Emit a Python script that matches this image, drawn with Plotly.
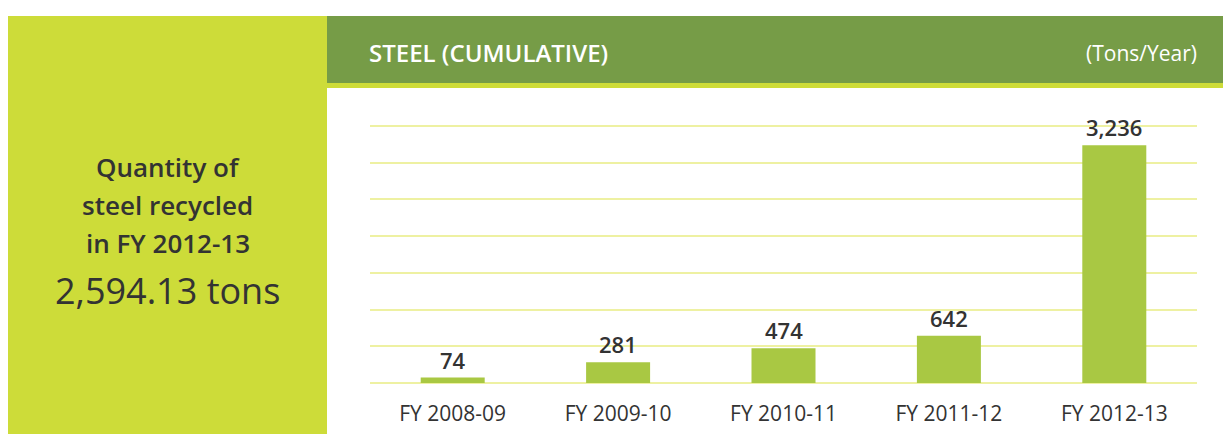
import plotly.graph_objects as go

# Data
years = ["FY 2008-09", "FY 2009-10", "FY 2010-11", "FY 2011-12", "FY 2012-13"]
steel_tons = [74, 281, 474, 642, 3236]
value_labels = ["74", "281", "474", "642", "3,236"]

W, H = 1223, 434

LIME = "#cddc39"
HEADER = "#769c47"
BAR = "#a9c843"
GRID = "#eef1a2"
TEXT = "#333333"
FONT = "Open Sans"

def px(x):
    return x / W

def py(y):
    return 1 - y / H

fig = go.Figure()

fig.add_trace(go.Bar(
    x=list(range(len(years))),
    y=steel_tons,
    width=0.387,
    marker=dict(color=BAR, line=dict(width=0)),
    hoverinfo="skip",
))

shapes = [
    # left summary panel
    dict(type="rect", xref="paper", yref="paper", x0=px(8), x1=px(327),
         y0=0, y1=py(16), fillcolor=LIME, line=dict(width=0), layer="below"),
    # header bar
    dict(type="rect", xref="paper", yref="paper", x0=px(327), x1=1,
         y0=py(83), y1=py(16), fillcolor=HEADER, line=dict(width=0), layer="below"),
    # accent stripe under the header
    dict(type="rect", xref="paper", yref="paper", x0=px(327), x1=1,
         y0=py(88), y1=py(83), fillcolor=LIME, line=dict(width=0), layer="below"),
]

annotations = [
    dict(xref="paper", yref="paper", x=px(367), y=py(53), xanchor="left", yanchor="middle",
         text="STEEL (CUMULATIVE)", showarrow=False,
         font=dict(family=FONT, size=24, color="white", weight=600)),
    dict(xref="paper", yref="paper", x=px(1199), y=py(53), xanchor="right", yanchor="middle",
         text="(Tons/Year)", showarrow=False,
         font=dict(family=FONT, size=21, color="white")),
    dict(xref="paper", yref="paper", x=px(167.5), y=py(167), xanchor="center", yanchor="middle",
         text="Quantity of", showarrow=False,
         font=dict(family=FONT, size=26, color=TEXT, weight=600)),
    dict(xref="paper", yref="paper", x=px(167.5), y=py(205), xanchor="center", yanchor="middle",
         text="steel recycled", showarrow=False,
         font=dict(family=FONT, size=26, color=TEXT, weight=600)),
    dict(xref="paper", yref="paper", x=px(167.5), y=py(243), xanchor="center", yanchor="middle",
         text="in FY 2012-13", showarrow=False,
         font=dict(family=FONT, size=26, color=TEXT, weight=600)),
    dict(xref="paper", yref="paper", x=px(167.5), y=py(290), xanchor="center", yanchor="middle",
         text="2,594.13 tons", showarrow=False,
         font=dict(family=FONT, size=36, color=TEXT)),
]

for i, (v, lab) in enumerate(zip(steel_tons, value_labels)):
    annotations.append(dict(
        x=i, y=v, xref="x", yref="y", text=lab, showarrow=False,
        xanchor="center", yanchor="middle", yshift=18,
        font=dict(family=FONT, size=22, color=TEXT, weight=600),
    ))

fig.update_layout(
    width=W, height=H,
    margin=dict(l=0, r=0, t=0, b=0),
    paper_bgcolor="white",
    plot_bgcolor="rgba(0,0,0,0)",
    showlegend=False,
    shapes=shapes,
    annotations=annotations,
    xaxis=dict(
        domain=[px(370), px(1197)],
        range=[-0.5, 4.5],
        tickmode="array",
        tickvals=list(range(len(years))),
        ticktext=years,
        showgrid=False, zeroline=False, showline=False,
        ticks="", ticklabelstandoff=16,
        tickfont=dict(family=FONT, size=21, color=TEXT),
    ),
    yaxis=dict(
        domain=[py(383), py(124)],
        range=[0, 3525],
        tickmode="array",
        tickvals=[0, 500, 1000, 1500, 2000, 2500, 3000, 3500],
        showgrid=True, gridcolor=GRID, gridwidth=2,
        zeroline=True, zerolinecolor=GRID, zerolinewidth=2,
        showticklabels=False, ticks="", showline=False,
    ),
)

fig.write_html("out.html")
